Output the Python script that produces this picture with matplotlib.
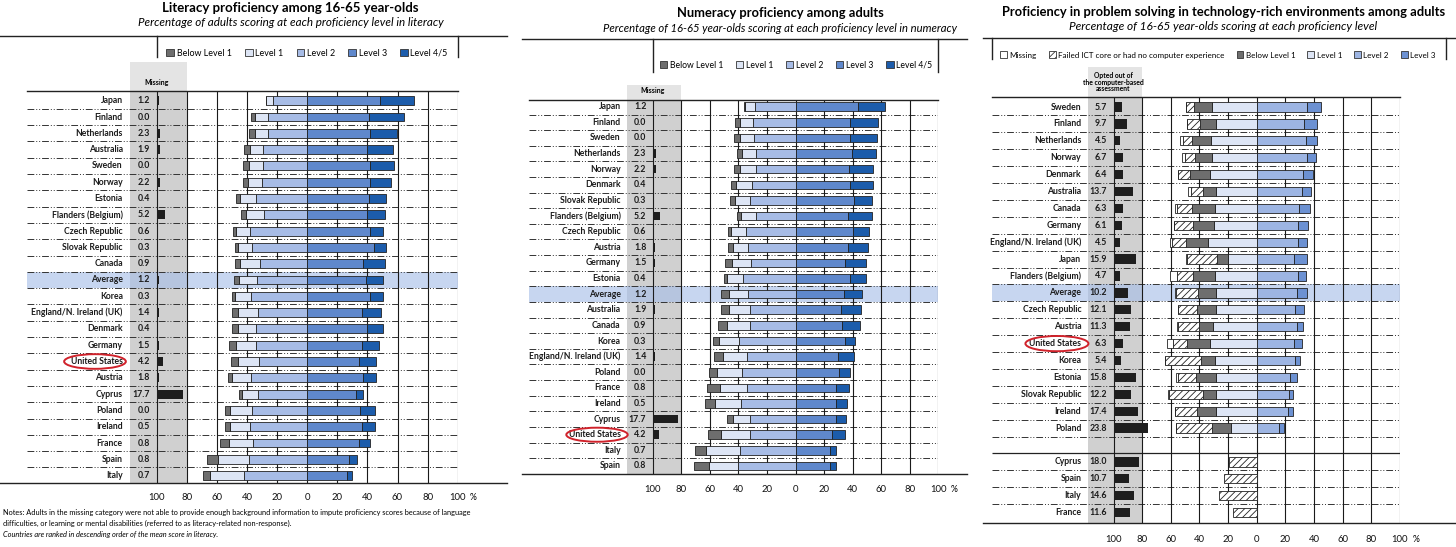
import numpy as np
import matplotlib.pyplot as plt
from matplotlib.patches import Rectangle, Ellipse, Patch
from matplotlib.lines import Line2D

plt.rcParams['font.family'] = ['Lato', 'DejaVu Sans']
plt.rcParams['hatch.linewidth'] = 0.6

W, H = 1456, 547

# ---------------- literacy ----------------
lit_countries = ['Japan', 'Finland', 'Netherlands', 'Australia', 'Sweden', 'Norway', 'Estonia',
                 'Flanders (Belgium)', 'Czech Republic', 'Slovak Republic', 'Canada', 'Average', 'Korea',
                 'England/N. Ireland (UK)', 'Denmark', 'Germany', 'United States', 'Austria', 'Cyprus',
                 'Poland', 'Ireland', 'France', 'Spain', 'Italy']
lit_missing = [1.2, 0.0, 2.3, 1.9, 0.0, 2.2, 0.4, 5.2, 0.6, 0.3, 0.9, 1.2, 0.3, 1.4, 0.4, 1.5, 4.2, 1.8,
               17.7, 0.0, 0.5, 0.8, 0.8, 0.7]
lit_below1 = [0.6, 3.1, 3.6, 3.8, 3.8, 3.3, 2.4, 3.6, 1.8, 2.2, 3.6, 3.6, 2.2, 4.2, 4.2, 4.2, 4.9, 3.1,
              2.0, 3.1, 3.6, 6.2, 7.6, 4.9]
lit_level1 = [4.3, 8.4, 8.9, 8.9, 9.3, 9.3, 10.7, 11.6, 9.8, 9.1, 12.9, 12.0, 10.4, 13.3, 11.6, 13.3, 13.8,
              12.4, 10.7, 14.9, 12.9, 15.8, 20.4, 22.4]
lit_level2 = [22.8, 26.0, 26.0, 29.3, 29.3, 29.8, 34.2, 28.9, 37.8, 36.7, 31.6, 33.3, 37.3, 32.4, 34.2,
              34.2, 32.0, 37.3, 32.4, 36.7, 38.2, 36.0, 38.7, 42.0]
lit_level3 = [48.6, 41.3, 42.0, 39.6, 41.8, 41.5, 41.3, 39.6, 41.8, 44.7, 37.3, 38.9, 42.0, 36.2, 40.0,
              36.7, 34.7, 37.3, 32.4, 35.3, 36.4, 34.7, 28.0, 26.4]
lit_level45 = [22.6, 22.7, 18.0, 17.3, 16.2, 14.2, 11.1, 12.0, 8.4, 7.6, 14.2, 11.3, 8.2, 13.1, 10.2,
               10.9, 11.1, 8.4, 4.9, 9.6, 8.4, 7.3, 5.1, 3.3]

# ---------------- numeracy ----------------
num_countries = ['Japan', 'Finland', 'Sweden', 'Netherlands', 'Norway', 'Denmark', 'Slovak Republic',
                 'Flanders (Belgium)', 'Czech Republic', 'Austria', 'Germany', 'Estonia', 'Average',
                 'Australia', 'Canada', 'Korea', 'England/N. Ireland (UK)', 'Poland', 'France', 'Ireland',
                 'Cyprus', 'United States', 'Italy', 'Spain']
num_missing = [1.2, 0.0, 0.0, 2.3, 2.2, 0.4, 0.3, 5.2, 0.6, 1.8, 1.5, 0.4, 1.2, 1.9, 0.9, 0.3, 1.4, 0.0,
               0.8, 0.5, 17.7, 4.2, 0.7, 0.8]
num_below1 = [1.2, 3.3, 4.4, 3.5, 4.0, 3.7, 3.7, 2.8, 2.1, 3.5, 4.7, 2.3, 5.6, 6.0, 5.8, 4.2, 6.5, 5.8,
              9.5, 7.0, 3.7, 9.3, 7.7, 10.2]
num_level1 = [7.0, 9.3, 10.0, 9.8, 10.9, 11.2, 10.2, 10.7, 10.7, 10.9, 13.3, 11.6, 13.7, 14.2, 16.3,
              14.4, 17.2, 17.4, 19.1, 17.7, 12.1, 20.2, 23.7, 20.7]
num_level2 = [28.1, 29.5, 28.8, 27.9, 27.9, 30.5, 32.1, 27.7, 34.7, 33.0, 31.4, 36.5, 33.0, 32.1, 31.9,
              39.3, 33.7, 37.7, 33.7, 38.4, 31.9, 32.1, 38.8, 40.0]
num_level3 = [43.7, 38.4, 38.4, 39.5, 37.4, 38.4, 40.9, 36.7, 40.2, 36.7, 34.7, 38.4, 34.0, 32.1, 32.6,
              34.7, 29.8, 30.5, 28.6, 28.6, 28.1, 25.3, 24.0, 24.4]
num_level45 = [18.8, 19.5, 18.4, 16.7, 16.7, 15.8, 12.8, 17.0, 11.4, 14.2, 14.4, 10.7, 12.8, 13.5, 12.6,
               7.2, 11.2, 7.9, 8.8, 7.7, 7.0, 9.3, 4.7, 3.7]

# ---------------- problem solving ----------------
ps_countries = ['Sweden', 'Finland', 'Netherlands', 'Norway', 'Denmark', 'Australia', 'Canada', 'Germany',
                'England/N. Ireland (UK)', 'Japan', 'Flanders (Belgium)', 'Average', 'Czech Republic',
                'Austria', 'United States', 'Korea', 'Estonia', 'Slovak Republic', 'Ireland', 'Poland']
ps_optout = [5.7, 9.7, 4.5, 6.7, 6.4, 13.7, 6.3, 6.1, 4.5, 15.9, 4.7, 10.2, 12.1, 11.3, 6.3, 5.4, 15.8,
             12.2, 17.4, 23.8]
ps_missing = [0.0, 0.0, 1.9, 2.3, 0.0, 2.3, 1.2, 0.0, 1.4, 0.7, 4.7, 0.7, 0.0, 0.5, 4.2, 0.0, 0.9, 0.7,
              0.0, 0.0]
ps_failed = [5.8, 9.3, 6.7, 7.0, 8.1, 8.1, 10.9, 13.0, 9.8, 21.2, 11.6, 15.1, 13.3, 14.8, 9.3, 24.7, 13.0,
             23.7, 14.9, 25.3]
ps_below1 = [12.8, 10.9, 12.8, 11.9, 14.0, 9.3, 15.8, 14.9, 15.6, 7.7, 15.1, 12.6, 13.0, 9.8, 16.3, 10.0,
             13.7, 8.8, 13.5, 13.3]
ps_level1 = [30.9, 28.6, 32.1, 31.2, 32.6, 28.4, 29.1, 29.8, 33.7, 19.8, 29.1, 28.6, 28.4, 30.7, 32.6,
             29.1, 28.6, 28.4, 28.4, 18.1]
ps_level2 = [35.3, 33.0, 34.4, 34.9, 32.6, 31.9, 29.8, 29.1, 29.1, 26.3, 29.1, 28.4, 26.7, 28.4, 26.3,
             26.7, 23.3, 22.8, 22.1, 15.6]
ps_level3 = [9.3, 8.8, 7.7, 6.5, 6.5, 6.3, 7.2, 7.0, 5.8, 8.6, 5.3, 6.5, 6.5, 4.2, 5.1, 3.5, 4.7, 2.8,
             3.5, 3.7]
ps_other_countries = ['Cyprus', 'Spain', 'Italy', 'France']
ps_other_optout = [18.0, 10.7, 14.6, 11.6]
ps_other_failed = [19.5, 22.6, 26.5, 16.3]

C_B1 = '#6e6e6e'
C_L1 = '#dde5f5'
C_L2 = '#a7bce6'
C_L3 = '#5f88cc'
C_L45 = '#1c5cab'
C_PS2 = '#9db5e3'
C_PS3 = '#6c91d2'

fig = plt.figure(figsize=(W / 100, H / 100), dpi=100)


def fx(px):
    return px / W


def fy(py):
    return 1 - py / H


def hline(x0, x1, y, lw=1.0):
    fig.add_artist(Line2D([fx(x0), fx(x1)], [fy(y), fy(y)], color='#222', lw=lw))


def vline(x, y0, y1, lw=1.0):
    fig.add_artist(Line2D([fx(x), fx(x)], [fy(y0), fy(y1)], color='#222', lw=lw))


def panel(zero, scale, left, top, bottom, row0, step):
    right = zero + 100 * scale
    ax = fig.add_axes([fx(left), fy(bottom), (right - left) / W, (bottom - top) / H])
    ax.set_xlim((left - zero) / scale, 100)
    ax.set_ylim((bottom - row0) / step, (top - row0) / step)
    return ax


def stack(ax, rows, parts, direction):
    base = np.zeros(len(rows))
    for vals, col, hatch in parts:
        vals = np.asarray(vals, dtype=float)
        ax.barh(rows, direction * vals, left=direction * base, height=0.55, color=col,
                edgecolor='#222', lw=0.6, hatch=hatch, zorder=3)
        base += vals


def table(ax, names, missing, rows, seps, hdr_top, avg_row, us_row, ell_x, ell_w, pad, solid=()):
    y_lo, y_hi = ax.get_ylim()
    x_lo = ax.get_xlim()[0]
    ax.add_patch(Rectangle((-118, hdr_top), 38, y_hi - hdr_top, color='#e4e4e4', lw=0,
                           clip_on=False, zorder=0))
    ax.add_patch(Rectangle((-118, y_hi), 38, y_lo - y_hi, color='#d0d0d0', lw=0, zorder=0))
    ax.axhspan(avg_row - 0.5, avg_row + 0.5, color='#a9c0e8', alpha=0.65, lw=0, zorder=0.5)
    ax.hlines(seps, x_lo, 100, colors='#333333', lw=0.7,
              linestyles=[(0, (7, 2, 1, 2, 1, 2))], zorder=1)
    for s in solid:
        ax.hlines(s, x_lo, 100, colors='#222', lw=0.9, zorder=1)
    ax.vlines(np.arange(-100, 101, 20), y_hi, y_lo, colors='#1a1a1a', lw=0.8, zorder=2)
    ax.barh(rows, missing, left=-100, height=0.55, color='#1e1e1e', zorder=3)
    for r, name, m in zip(rows, names, missing):
        ax.text(-122.5, r, name, ha='right', va='center', fontsize=6.2, weight='bold', color='#1a1a1a')
        ax.text(-104.5, r, f'{m:.1f}', ha='right', va='center', fontsize=6.3, weight='bold',
                color='#1a1a1a')
    ax.add_patch(Ellipse((ell_x, us_row), ell_w, 0.9, fill=False, ec='#d0222b', lw=1.4,
                         clip_on=False, zorder=5))
    ticks = np.arange(-100, 101, 20)
    ax.set_xticks(ticks)
    ax.set_xticklabels([str(abs(t)) for t in ticks], fontsize=6.8, color='#111')
    ax.tick_params(axis='x', length=0, pad=pad)
    ax.set_yticks([])
    for side in ['left', 'right', 'bottom']:
        ax.spines[side].set_visible(False)
    ax.spines['top'].set_linewidth(1.0)
    ax.spines['top'].set_color('#222')


def legend(ax, items, cx, cy, fs):
    handles = [Patch(facecolor=c, edgecolor='#333', lw=0.6, hatch=h) for _, c, h in items]
    ax.legend(handles, [t for t, _, _ in items], ncol=len(items), loc='center',
              bbox_to_anchor=(fx(cx), fy(cy)), bbox_transform=fig.transFigure, frameon=False,
              fontsize=fs, handlelength=0.85, handleheight=0.85, handletextpad=0.3,
              columnspacing=1.5, borderpad=0, borderaxespad=0)


lvl_items = [('Below Level 1', C_B1, None), ('Level 1', C_L1, None), ('Level 2', C_L2, None),
             ('Level 3', C_L3, None), ('Level 4/5', C_L45, None)]

# ---------- panel 1: literacy ----------
row0, step = 100.7, 16.3
ax1 = panel(307.2, 1.505, 27, 91, 483, row0, step)
r1 = np.arange(len(lit_countries))
table(ax1, lit_countries, lit_missing, r1, r1[:-1] + 0.5, (62 - row0) / step,
      lit_countries.index('Average'), lit_countries.index('United States'), -141, 41, 7.5)
stack(ax1, r1, [(lit_level2, C_L2, None), (lit_level1, C_L1, None), (lit_below1, C_B1, None)], -1)
stack(ax1, r1, [(lit_level3, C_L3, None), (lit_level45, C_L45, None)], 1)
ax1.text(-100, (82 - row0) / step, 'Missing', ha='center', va='center', fontsize=5,
         weight='bold', clip_on=False)
legend(ax1, lvl_items, 307, 53, 6.4)
fig.text(fx(290), fy(8), 'Literacy proficiency among 16-65 year-olds', ha='center', va='center',
         fontsize=9.5, weight='bold')
fig.text(fx(291), fy(23), 'Percentage of adults scoring at each proficiency level in literacy',
         ha='center', va='center', fontsize=8.4, style='italic')
hline(0, 507, 36)
vline(157, 36, 57)
vline(458, 36, 57)
hline(0, 507, 483)
fig.text(fx(473), fy(497), '%', ha='center', va='center', fontsize=6.2)
fig.text(fx(3), fy(512), 'Notes: Adults in the missing category were not able to provide enough '
         'background information to impute proficiency scores because of language',
         ha='left', va='center', fontsize=5.35)
fig.text(fx(3), fy(523), 'difficulties, or learning or mental disabilities (referred to as '
         'literacy-related non-response).', ha='left', va='center', fontsize=5.35)
fig.text(fx(3), fy(534), 'Countries are ranked in descending order of the mean score in literacy.',
         ha='left', va='center', fontsize=5.35, style='italic')

# ---------- panel 2: numeracy ----------
row0, step = 106.7, 15.62
ax2 = panel(795.5, 1.428, 529, 100, 474, row0, step)
r2 = np.arange(len(num_countries))
table(ax2, num_countries, num_missing, r2, r2[:-1] + 0.5, (85 - row0) / step,
      num_countries.index('Average'), num_countries.index('United States'), -139, 43, 8)
stack(ax2, r2, [(num_level2, C_L2, None), (num_level1, C_L1, None), (num_below1, C_B1, None)], -1)
stack(ax2, r2, [(num_level3, C_L3, None), (num_level45, C_L45, None)], 1)
ax2.text(-100, (90 - row0) / step, 'Missing', ha='center', va='center', fontsize=5,
         weight='bold', clip_on=False)
legend(ax2, lvl_items, 796, 65, 6.2)
fig.text(fx(780), fy(13), 'Numeracy proficiency among adults', ha='center', va='center',
         fontsize=9.3, weight='bold')
fig.text(fx(780), fy(29), 'Percentage of 16-65 year-olds scoring at each proficiency level in numeracy',
         ha='center', va='center', fontsize=8.1, style='italic')
hline(522, 967, 39)
vline(653, 39, 72)
vline(938, 39, 72)
hline(522, 967, 474)
fig.text(fx(954), fy(489), '%', ha='center', va='center', fontsize=6.2)

# ---------- panel 3: problem solving ----------
row0, step = 107, 16.9
ax3 = panel(1256.7, 1.432, 992, 97, 522.7, row0, step)
r3 = np.arange(len(ps_countries))
r3b = np.arange(len(ps_other_countries)) + len(ps_countries) + 1
seps = list(r3 + 0.5) + list(r3b[:-1] + 0.5)
table(ax3, ps_countries + ps_other_countries, ps_optout + ps_other_optout,
      np.concatenate([r3, r3b]), seps, (67 - row0) / step,
      ps_countries.index('Average'), ps_countries.index('United States'), -139.5, 44, 8.5,
      solid=[len(ps_countries) + 0.5])
stack(ax3, r3, [(ps_level1, C_L1, None), (ps_below1, C_B1, None), (ps_failed, 'white', '/////'),
                (ps_missing, 'white', None)], -1)
stack(ax3, r3, [(ps_level2, C_PS2, None), (ps_level3, C_PS3, None)], 1)
stack(ax3, r3b, [(ps_other_failed, 'white', '/////')], -1)
ax3.text(-100, (82 - row0) / step, 'Opted out of\nthe computer-based\nassessment', ha='center',
         va='center', fontsize=4.9, weight='bold', linespacing=0.95, clip_on=False)
legend(ax3, [('Missing', 'white', None),
             ('Failed ICT core or had no computer experience', 'white', '/////'),
             ('Below Level 1', C_B1, None), ('Level 1', C_L1, None),
             ('Level 2', C_PS2, None), ('Level 3', C_PS3, None)], 1218, 55, 5.8)
fig.text(fx(1224), fy(12), 'Proficiency in problem solving in technology-rich environments among adults',
         ha='center', va='center', fontsize=9.3, weight='bold')
fig.text(fx(1223), fy(27), 'Percentage of 16-65 year-olds scoring at each proficiency level',
         ha='center', va='center', fontsize=8.6, style='italic')
hline(983, 1456, 38)
vline(992, 38, 59)
vline(1446, 38, 59)
hline(983, 1456, 522.7)
fig.text(fx(1416), fy(539), '%', ha='center', va='center', fontsize=6.2)

fig.savefig('out.png', dpi=100)
